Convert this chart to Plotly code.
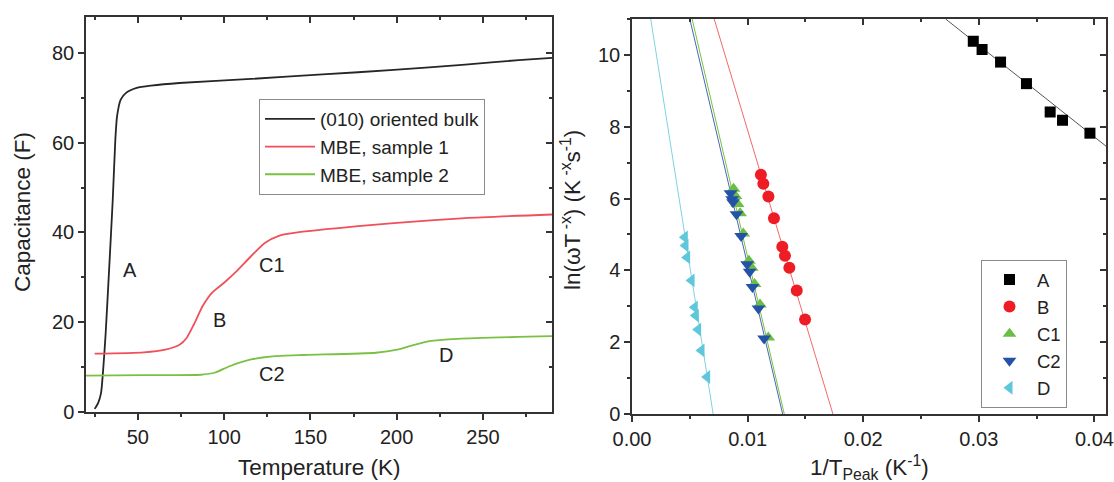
import plotly.graph_objects as go

# ---------------- Left panel data (Capacitance vs Temperature) ----------------
bulk_T = [25.0, 27.0, 28.7, 30.1, 31.4, 33.5, 35.5, 37.0, 38.0, 40.1, 43.2, 49.4, 57.7, 74.0,
          115.6, 157.0, 198.3, 239.7, 270.7, 290.0]
bulk_C = [0.7, 2.0, 4.2, 10.2, 17.6, 32.5, 47.3, 60.7, 65.9, 69.6, 71.1, 72.2, 72.7, 73.3,
          74.2, 75.2, 76.2, 77.4, 78.4, 78.9]

s1_T = [25.0, 53.5, 65.9, 74.2, 78.3, 82.5, 87.6, 92.8, 100.0, 107.3, 115.6, 123.8, 132.1,
        142.5, 177.6, 198.3, 239.7, 290.0]
s1_C = [13.0, 13.3, 13.9, 15.0, 16.5, 19.5, 23.6, 26.5, 28.8, 31.4, 34.7, 37.7, 39.3,
        40.0, 41.4, 42.1, 43.2, 44.0]

s2_T = [20.0, 53.5, 86.6, 94.9, 103.2, 115.6, 128.0, 146.6, 188.0, 200.4, 208.6, 219.0,
        235.5, 290.0]
s2_C = [8.1, 8.2, 8.3, 8.8, 10.2, 11.7, 12.4, 12.7, 13.2, 13.9, 14.8, 15.8, 16.3, 16.9]

left_labels = ["A", "B", "C1", "C2", "D"]
left_label_T = [45.7, 97.4, 128.0, 128.0, 228.3]
left_label_C = [31.7, 20.4, 32.7, 8.5, 12.8]

# ---------------- Right panel data (Arrhenius plot) ----------------
A_x = [0.02952, 0.03028, 0.03188, 0.03412, 0.03617, 0.03724, 0.03961]
A_y = [10.38, 10.15, 9.80, 9.20, 8.41, 8.18, 7.82]
A_fit_x = [0.02713, 0.0410]
A_fit_y = [11.0, 7.46]

B_x = [0.01115, 0.01136, 0.01180, 0.01228, 0.01300, 0.01323, 0.01361, 0.01425, 0.01497]
B_y = [6.66, 6.41, 6.06, 5.45, 4.66, 4.41, 4.07, 3.44, 2.63]
B_fit_x = [0.00711, 0.01738]
B_fit_y = [11.0, 0.0]

C1_x = [0.00878, 0.00895, 0.00914, 0.00935, 0.00962, 0.01011, 0.01035, 0.01060, 0.01107, 0.01179]
C1_y = [6.27, 6.07, 5.85, 5.59, 5.03, 4.27, 4.07, 3.62, 3.05, 2.13]
C1_fit_x = [0.0052, 0.01317]
C1_fit_y = [11.0, 0.0]

C2_x = [0.00852, 0.00866, 0.00874, 0.00904, 0.00944, 0.00996, 0.01018, 0.01042, 0.01094, 0.01143]
C2_y = [6.15, 5.98, 5.90, 5.56, 4.96, 4.17, 3.96, 3.54, 2.94, 2.10]
C2_fit_x = [0.0050, 0.01303]
C2_fit_y = [11.0, 0.0]

D_x = [0.00457, 0.00463, 0.00477, 0.00515, 0.00543, 0.00552, 0.00572, 0.00601, 0.00650]
D_y = [4.92, 4.69, 4.36, 3.72, 2.97, 2.74, 2.35, 1.77, 1.03]
D_fit_x = [0.00162, 0.00702]
D_fit_y = [11.0, 0.0]

W, H = 1114, 482
FONT = "Arial, Liberation Sans, sans-serif"
AX = "#333333"
TXT = "#222222"

L_dom_x = [86 / W, 552 / W]
L_dom_y = [1 - 412 / H, 1 - 17 / H]
R_dom_x = [632 / W, 1106 / W]
R_dom_y = [1 - 414 / H, 1 - 19 / H]

fig = go.Figure()

# Left curves
fig.add_trace(go.Scatter(x=bulk_T, y=bulk_C, mode="lines", name="(010) oriented bulk",
                         line=dict(color="#262626", width=1.8, shape="spline", smoothing=0.6),
                         xaxis="x", yaxis="y", legend="legend"))
fig.add_trace(go.Scatter(x=s1_T, y=s1_C, mode="lines", name="MBE, sample 1",
                         line=dict(color="#f0505a", width=1.8, shape="spline", smoothing=0.6),
                         xaxis="x", yaxis="y", legend="legend"))
fig.add_trace(go.Scatter(x=s2_T, y=s2_C, mode="lines", name="MBE, sample 2",
                         line=dict(color="#7ac143", width=1.8, shape="spline", smoothing=0.6),
                         xaxis="x", yaxis="y", legend="legend"))

# Right fit lines
fits = [(A_fit_x, A_fit_y, "#555555"), (B_fit_x, B_fit_y, "#f06a6a"),
        (C1_fit_x, C1_fit_y, "#7ac143"), (C2_fit_x, C2_fit_y, "#4a66b8"),
        (D_fit_x, D_fit_y, "#7fd3e2")]
for fx, fy, c in fits:
    fig.add_trace(go.Scatter(x=fx, y=fy, mode="lines", line=dict(color=c, width=1),
                             showlegend=False, hoverinfo="skip", xaxis="x2", yaxis="y2"))

# Right markers
series = [("A", A_x, A_y, "square", "#000000", 11),
          ("B", B_x, B_y, "circle", "#ee1c24", 12),
          ("C1", C1_x, C1_y, "triangle-up", "#6cbd45", 12),
          ("C2", C2_x, C2_y, "triangle-down", "#2352a6", 12),
          ("D", D_x, D_y, "triangle-left", "#5ec8da", 12)]
for name, sx, sy, sym, c, sz in series:
    fig.add_trace(go.Scatter(x=sx, y=sy, mode="markers", name=name,
                             marker=dict(symbol=sym, color=c, size=sz, line=dict(width=0)),
                             xaxis="x2", yaxis="y2", legend="legend2"))

# dummy traces for mirrored (inside) tick axes
for xa, ya in [("x3", "y3"), ("x4", "y4")]:
    fig.add_trace(go.Scatter(x=[None], y=[None], mode="markers", showlegend=False,
                             hoverinfo="skip", xaxis=xa, yaxis=ya))

tickfont = dict(family=FONT, size=20, color=TXT)


def base_axis(domain, rng, dtick, minor_dtick, anchor, side, ticks, labels, overlay=None, tick0=0,
              tickformat=None):
    d = dict(domain=domain, range=rng, dtick=dtick, tick0=tick0, ticks=ticks, ticklen=6,
             tickwidth=1.5, tickcolor=AX, showline=True, linecolor=AX, linewidth=1.5,
             showgrid=False, zeroline=False, showticklabels=labels, tickfont=tickfont,
             anchor=anchor, side=side, automargin=False,
             minor=dict(dtick=minor_dtick, tick0=tick0, ticks=ticks, ticklen=3.5,
                        tickwidth=1.5, tickcolor=AX, showgrid=False))
    if overlay:
        d["overlaying"] = overlay
        d.pop("domain")
    if tickformat:
        d["tickformat"] = tickformat
    return d


L_xr = [20, 290]
L_yr = [0, 88]
R_xr = [0, 0.041]
R_yr = [0, 11]

fig.update_layout(
    width=W, height=H,
    margin=dict(l=0, r=0, t=0, b=0),
    paper_bgcolor="white", plot_bgcolor="white",
    font=dict(family=FONT, color=TXT),
    xaxis=base_axis(L_dom_x, L_xr, 50, 25, "y", "bottom", "outside", True),
    yaxis=base_axis(L_dom_y, L_yr, 20, 10, "x", "left", "outside", True),
    xaxis2=base_axis(R_dom_x, R_xr, 0.01, 0.005, "y2", "bottom", "outside", True,
                     tickformat=".2f"),
    yaxis2=base_axis(R_dom_y, R_yr, 2, 1, "x2", "left", "outside", True),
    xaxis3=base_axis(L_dom_x, L_xr, 50, 25, "y", "top", "inside", False, overlay="x"),
    yaxis3=base_axis(L_dom_y, L_yr, 20, 10, "x", "right", "inside", False, overlay="y"),
    xaxis4=base_axis(R_dom_x, R_xr, 0.01, 0.005, "y2", "top", "inside", False, overlay="x2"),
    yaxis4=base_axis(R_dom_y, R_yr, 2, 1, "x2", "right", "inside", False, overlay="y2"),
    legend=dict(x=259 / W, y=1 - 99 / H, xanchor="left", yanchor="top",
                bgcolor="white", bordercolor="#8a8a8a", borderwidth=1,
                font=dict(family=FONT, size=19, color=TXT), tracegroupgap=0,
                itemwidth=50),
    legend2=dict(x=981 / W, y=1 - 260 / H, xanchor="left", yanchor="top",
                 bgcolor="white", bordercolor="#8a8a8a", borderwidth=1,
                 font=dict(family=FONT, size=18.5, color=TXT), tracegroupgap=0,
                 itemwidth=45),
    showlegend=True,
)

# Peak labels on the left panel
for t, x, y in zip(left_labels, left_label_T, left_label_C):
    fig.add_annotation(x=x, y=y, xref="x", yref="y", text=t, showarrow=False,
                       font=dict(family=FONT, size=20, color=TXT))

# Axis titles
titles = [
    ("Capacitance (F)", 22, 212, -90),
    ("Temperature (K)", 319, 467, 0),
    ("ln(ωT<sup> -x</sup>) (K<sup> -x</sup>s<sup>-1</sup>)", 571, 210, -90),
    ("1/T<sub>Peak</sub> (K<sup>-1</sup>)", 869, 467, 0),
]
for text, px, py, ang in titles:
    fig.add_annotation(x=px / W, y=1 - py / H, xref="paper", yref="paper", text=text,
                       showarrow=False, textangle=ang, xanchor="center", yanchor="middle",
                       font=dict(family=FONT, size=22.5, color=TXT))

fig.write_html("out.html")
